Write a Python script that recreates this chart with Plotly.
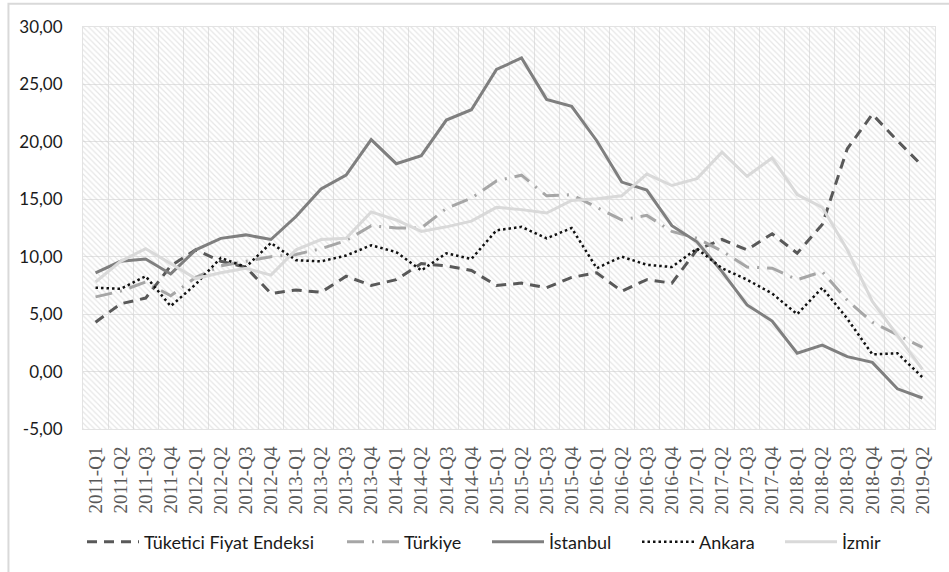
import plotly.graph_objects as go

quarters = [
    "2011-Q1", "2011-Q2", "2011-Q3", "2011-Q4",
    "2012-Q1", "2012-Q2", "2012-Q3", "2012-Q4",
    "2013-Q1", "2013-Q2", "2013-Q3", "2013-Q4",
    "2014-Q1", "2014-Q2", "2014-Q3", "2014-Q4",
    "2015-Q1", "2015-Q2", "2015-Q3", "2015-Q4",
    "2016-Q1", "2016-Q2", "2016-Q3", "2016-Q4",
    "2017-Q1", "2017-Q2", "2017-Q3", "2017-Q4",
    "2018-Q1", "2018-Q2", "2018-Q3", "2018-Q4",
    "2019-Q1", "2019-Q2",
]

tufe = [4.3, 5.9, 6.4, 9.2, 10.6, 9.6, 9.1, 6.8, 7.1, 6.9, 8.3, 7.5,
        8.0, 9.4, 9.2, 8.8, 7.5, 7.7, 7.3, 8.2, 8.6, 7.0, 8.0, 7.7,
        10.6, 11.5, 10.6, 12.0, 10.3, 12.8, 19.4, 22.4, 20.1, 17.9]

turkiye = [6.5, 7.0, 7.8, 6.6, 8.2, 9.2, 9.6, 10.0, 10.2, 10.7, 11.4, 12.7,
           12.5, 12.5, 14.2, 15.1, 16.6, 17.1, 15.3, 15.4, 14.3, 13.2, 13.6, 12.2,
           11.6, 10.5, 9.1, 9.0, 8.0, 8.7, 6.2, 4.3, 3.2, 2.1]

istanbul = [8.6, 9.6, 9.8, 8.5, 10.6, 11.6, 11.9, 11.5, 13.5, 15.9, 17.1, 20.2,
            18.1, 18.8, 21.9, 22.8, 26.3, 27.3, 23.7, 23.1, 20.1, 16.5, 15.8, 12.7,
            11.3, 8.7, 5.8, 4.4, 1.6, 2.3, 1.3, 0.8, -1.5, -2.3]

ankara = [7.3, 7.2, 8.3, 5.7, 7.6, 9.9, 9.1, 11.2, 9.7, 9.6, 10.1, 11.0,
          10.4, 8.8, 10.3, 9.8, 12.3, 12.6, 11.6, 12.5, 9.0, 10.0, 9.3, 9.1,
          10.7, 9.0, 8.0, 6.8, 5.0, 7.3, 4.6, 1.5, 1.6, -0.5]

izmir = [7.8, 9.6, 10.7, 9.4, 8.1, 8.6, 9.0, 8.4, 10.6, 11.5, 11.6, 13.9,
         13.2, 12.2, 12.6, 13.1, 14.3, 14.1, 13.8, 14.9, 15.05, 15.3, 17.2, 16.2,
         16.8, 19.1, 17.0, 18.6, 15.4, 14.3, 10.6, 6.1, 3.2, 0.2]

series_names = ["Tüketici Fiyat Endeksi", "Türkiye", "İstanbul", "Ankara", "İzmir"]

y_tick_vals = [-5, 0, 5, 10, 15, 20, 25, 30]
y_tick_text = ["-5,00", "0,00", "5,00", "10,00", "15,00", "20,00", "25,00", "30,00"]
Y_MIN, Y_MAX = -5, 30

# layout geometry (pixels)
PLOT_L, PLOT_W = 83, 852
legend_sample_px = [87, 347, 492, 642, 785]

fig = go.Figure()

# hatched plot-area background (Excel pattern fill)
fig.add_trace(go.Bar(
    x=quarters, y=[Y_MAX - Y_MIN] * len(quarters), base=Y_MIN, width=1,
    marker=dict(color="rgba(0,0,0,0)", line=dict(width=0),
                pattern=dict(shape="\\", fgcolor="#cdcdcd", bgcolor="rgba(0,0,0,0)",
                             size=4, solidity=0.3)),
    showlegend=False, hoverinfo="skip",
))

styles = [
    dict(color="#595959", width=3, dash="10px,7px"),
    dict(color="#a6a6a6", width=3, dash="17px,8px,2px,8px"),
    dict(color="#7f7f7f", width=3, dash="solid"),
    dict(color="#111111", width=2.5, dash="2.5px,3px"),
    dict(color="#d9d9d9", width=3, dash="solid"),
]

legend_ids = ["legend", "legend2", "legend3", "legend4", "legend5"]

for name, vals, st, lid in zip(series_names, [tufe, turkiye, istanbul, ankara, izmir], styles, legend_ids):
    fig.add_trace(go.Scatter(x=quarters, y=vals, mode="lines", name=name, line=st, legend=lid))

legend_layouts = {}
for lid, px in zip(legend_ids, legend_sample_px):
    legend_layouts[lid] = dict(
        orientation="h", x=(px - 5 - PLOT_L) / PLOT_W, xanchor="left",
        y=-0.281, yanchor="middle", bgcolor="rgba(0,0,0,0)", borderwidth=0,
        font=dict(family="Lato", size=18, color="#1a1a1a"), itemwidth=52,
    )

fig.update_layout(
    width=949, height=572,
    margin=dict(l=PLOT_L, r=14, t=27, b=140),
    paper_bgcolor="white", plot_bgcolor="white",
    barmode="overlay", bargap=0,
    showlegend=True,
    xaxis=dict(type="category", categoryorder="array", categoryarray=quarters,
               tickvals=quarters, ticktext=quarters,
               tickangle=-90, tickson="boundaries", ticks="",
               showgrid=True, gridcolor="#e3e3e3", gridwidth=1,
               showline=True, mirror=True, linecolor="#e3e3e3",
               tickfont=dict(family="Liberation Serif", size=19, color="#595959"),
               ticklabelstandoff=9, range=[-0.5, len(quarters) - 0.5]),
    yaxis=dict(range=[Y_MIN, Y_MAX], tickvals=y_tick_vals, ticktext=y_tick_text,
               showgrid=True, gridcolor="#e3e3e3", gridwidth=1, zeroline=False,
               showline=True, mirror=True, linecolor="#e3e3e3",
               ticks="", tickfont=dict(family="Lato", size=17, color="#1a1a1a"),
               ticklabelstandoff=16),
    shapes=[dict(type="rect", xref="paper", yref="paper",
                 x0=-0.0875, x1=1.03, y0=-0.36, y1=1.058,
                 line=dict(color="#d9d9d9", width=2), fillcolor="rgba(0,0,0,0)", layer="below")],
    **legend_layouts,
)

fig.write_html("out.html", config={"displayModeBar": False},
               post_script="document.body.style.margin='0';")
